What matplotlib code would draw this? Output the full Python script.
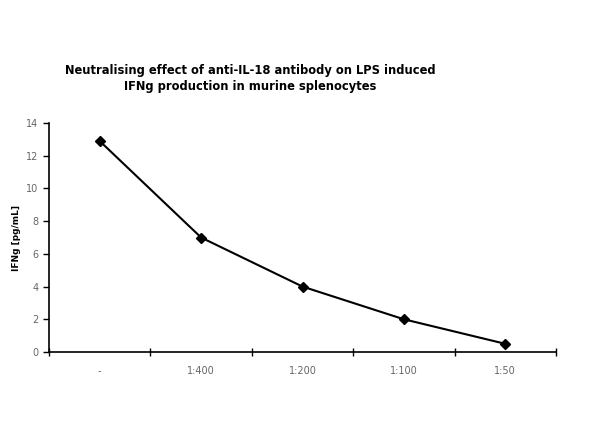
import matplotlib.pyplot as plt
from matplotlib.ticker import FixedLocator, NullFormatter

# dilutions of anti-IL-18 antibody and IFNg levels
dilutions = ['-', '1:400', '1:200', '1:100', '1:50']
ifng = [12.9, 7.0, 4.0, 2.0, 0.5]

fig = plt.figure(figsize=(6, 4.48), dpi=100)
ax = fig.add_axes([0.0817, 0.2143, 0.845, 0.511])

x = list(range(len(dilutions)))
ax.plot(x, ifng, color='black', linewidth=1.5, marker='D', markersize=5)

ax.set_xlim(-0.5, len(dilutions) - 0.5)
ax.set_ylim(0, 14)
ax.set_yticks(range(0, 15, 2))

# category labels in the middle, ticks on the boundaries
ax.set_xticks(x)
ax.set_xticklabels(dilutions)
ax.tick_params(axis='x', which='major', length=0, pad=10)
ax.xaxis.set_minor_locator(FixedLocator([i - 0.5 for i in range(len(dilutions) + 1)]))
ax.xaxis.set_minor_formatter(NullFormatter())
ax.tick_params(axis='x', which='minor', length=6, direction='inout', width=1)
ax.tick_params(axis='y', length=4, width=1, direction='out')
ax.tick_params(labelsize=7, labelcolor='#666666')

for s in ['top', 'right']:
    ax.spines[s].set_visible(False)
for s in ['left', 'bottom']:
    ax.spines[s].set_linewidth(1.2)

ax.set_ylabel('IFNg [pg/mL]', fontsize=6.5, fontweight='bold', labelpad=4)

fig.text(0.417, 0.825, 'Neutralising effect of anti-IL-18 antibody on LPS induced\nIFNg production in murine splenocytes',
         ha='center', va='center', fontsize=8.3, fontweight='bold', linespacing=1.35)

fig.savefig('out.png', dpi=100)
